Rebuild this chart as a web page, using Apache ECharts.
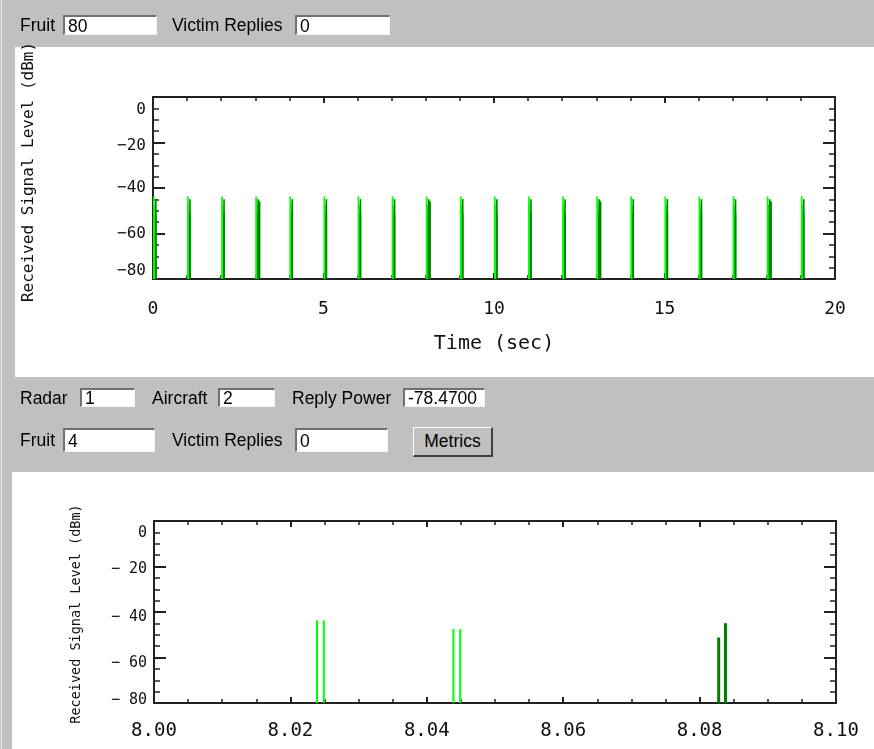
<!DOCTYPE html>
<html>
<head>
<meta charset="utf-8">
<script src="https://cdn.jsdelivr.net/npm/echarts@6/dist/echarts.min.js"></script>
<style>
	body{margin:0;background:#c0c0c0;font-family:"Liberation Sans",Arial,sans-serif;}
	.page{position:relative;width:874px;height:749px;overflow:hidden;background:#c0c0c0;}
	.white{position:absolute;background:#fff;}
	.edge{position:absolute;left:1px;top:0;width:1px;height:749px;background:#ececec;}
	#chart{position:absolute;left:0;top:0;width:874px;height:749px;z-index:2;}
	.lbl{position:absolute;font-size:17.5px;color:#000;line-height:20px;white-space:nowrap;z-index:3;}
	.box{position:absolute;background:#fff;box-sizing:border-box;border-top:2px solid #707070;border-left:2px solid #707070;
		border-right:1px solid #f4f4f4;border-bottom:1px solid #f4f4f4;font-size:17.5px;padding-left:3px;overflow:hidden;white-space:nowrap;z-index:3;}
	.btn{position:absolute;box-sizing:border-box;background:#c0c0c0;border-top:1px solid #fff;border-left:1px solid #fff;
		border-right:2px solid #404040;border-bottom:2px solid #404040;font-size:17.5px;text-align:center;z-index:3;}
</style>
</head>
<body>
<div class="page">
	<div class="edge"></div>
	<div class="white" style="left:15px;top:47px;width:859px;height:330px;"></div>
	<div class="white" style="left:12px;top:472px;width:862px;height:277px;"></div>

	<div class="lbl" style="left:20px;top:15px;">Fruit</div>
	<div class="box" style="left:63px;top:15px;width:94px;height:20px;line-height:18px;">80</div>
	<div class="lbl" style="left:172px;top:15px;">Victim Replies</div>
	<div class="box" style="left:295px;top:15px;width:95px;height:20px;line-height:18px;">0</div>

	<div class="lbl" style="left:20px;top:388px;">Radar</div>
	<div class="box" style="left:80px;top:388px;width:55px;height:19px;line-height:17px;">1</div>
	<div class="lbl" style="left:152px;top:388px;">Aircraft</div>
	<div class="box" style="left:218px;top:388px;width:57px;height:19px;line-height:17px;">2</div>
	<div class="lbl" style="left:292px;top:388px;">Reply Power</div>
	<div class="box" style="left:403px;top:388px;width:82px;height:19px;line-height:17px;">-78.4700</div>

	<div class="lbl" style="left:20px;top:430px;">Fruit</div>
	<div class="box" style="left:63px;top:428px;width:92px;height:24px;line-height:22px;">4</div>
	<div class="lbl" style="left:172px;top:430px;">Victim Replies</div>
	<div class="box" style="left:295px;top:428px;width:93px;height:24px;line-height:22px;">0</div>
	<div class="btn" style="left:413px;top:427px;width:80px;height:30px;line-height:27px;">Metrics</div>

	<div id="chart"></div>
</div>
<script>
// full 20 s run: fruit pulses (bright green) and replies (dark green), [time, dBm]
var topFruit = [
	[0.024,-43.7],[0.044,-47.5],[1.024,-43.7],[1.044,-47.5],[2.024,-43.7],[2.044,-47.5],
	[3.024,-43.7],[3.044,-47.5],[3.115,-45.5],[4.024,-43.7],[4.044,-47.5],
	[5.024,-43.7],[5.044,-47.5],[6.024,-43.7],[6.044,-47.5],[7.024,-43.7],[7.044,-47.5],
	[8.024,-43.7],[8.044,-47.5],[8.115,-45.5],[9.024,-43.7],[9.044,-47.5],
	[10.024,-43.7],[10.044,-47.5],[11.024,-43.7],[11.044,-47.5],[12.024,-43.7],[12.044,-47.5],
	[13.024,-43.7],[13.044,-47.5],[13.115,-45.5],[14.024,-43.7],[14.044,-47.5],
	[15.024,-43.7],[15.044,-47.5],[16.024,-43.7],[16.044,-47.5],[17.024,-43.7],[17.044,-47.5],
	[18.024,-43.7],[18.044,-47.5],[18.115,-45.5],[19.024,-43.7],[19.044,-47.5]
];
var topReplies = [
	[0.083,-51.2],[0.084,-44.9],[1.083,-51.2],[1.084,-44.9],[2.083,-51.2],[2.084,-44.9],
	[3.083,-51.2],[3.084,-44.9],[3.125,-46.0],[4.083,-51.2],[4.084,-44.9],
	[5.083,-51.2],[5.084,-44.9],[6.083,-51.2],[6.084,-44.9],[7.083,-51.2],[7.084,-44.9],
	[8.083,-51.2],[8.084,-44.9],[8.125,-46.0],[9.083,-51.2],[9.084,-44.9],
	[10.083,-51.2],[10.084,-44.9],[11.083,-51.2],[11.084,-44.9],[12.083,-51.2],[12.084,-44.9],
	[13.083,-51.2],[13.084,-44.9],[13.125,-46.0],[14.083,-51.2],[14.084,-44.9],
	[15.083,-51.2],[15.084,-44.9],[16.083,-51.2],[16.084,-44.9],[17.083,-51.2],[17.084,-44.9],
	[18.083,-51.2],[18.084,-44.9],[18.125,-46.0],[19.083,-51.2],[19.084,-44.9]
];
// zoomed window 8.00 - 8.10 s
var zoomFruit = [[8.0239,-43.7],[8.0249,-43.7],[8.0439,-47.5],[8.0449,-47.5]];
var zoomReplies = [[8.0828,-51.2],[8.0838,-44.9]];

var yTitle = 'Received Signal Level (dBm)';
var xTitle = 'Time (sec)';

var mono = '"DejaVu Sans Mono", "Liberation Mono", monospace';
var axisColor = '#222';

function spike(width){
	return function(params, api){
		var top = api.coord([api.value(0), api.value(1)]);
		var base = api.coord([api.value(0), -80]);
		return {
			type:'line',
			shape:{x1:top[0], y1:top[1], x2:base[0], y2:base[1]},
			style:{stroke:api.visual('color'), lineWidth:width}
		};
	};
}

function frameAxis(extra, majorLen, minorLen, split){
	var a = {
		type:'value',
		axisLine:{show:true, onZero:false, lineStyle:{color:axisColor, width:2}},
		axisTick:{show:true, inside:true, length:majorLen, lineStyle:{color:axisColor, width:2}},
		minorTick:{show:true, splitNumber:split, length:minorLen, lineStyle:{color:axisColor, width:1.5}},
		splitLine:{show:false},
		minorSplitLine:{show:false},
		axisLabel:{show:false}
	};
	for(var k in extra){ a[k] = extra[k]; }
	return a;
}

// the old plot routine nudges some tick labels off their ticks
function yLabels(size, gap, shifts){
	var rich = {};
	Object.keys(shifts).forEach(function(key){
		var d = shifts[key];
		rich['s' + key.replace('-', 'm')] = {fontFamily:mono, fontSize:size, color:'#111',
			padding: d >= 0 ? [2 * d, 0, 0, 0] : [0, 0, -2 * d, 0]};
	});
	return {
		show:true, margin:7, fontFamily:mono, fontSize:size, color:'#111',
		formatter:function(v){
			var s = v < 0 ? '\u2212' + gap + (-v) : String(v);
			var key = String(v);
			return shifts[key] !== undefined ? '{s' + key.replace('-', 'm') + '|' + s + '}' : s;
		},
		rich:rich
	};
}

var myChart = echarts.init(document.getElementById('chart'));
var option = {
	backgroundColor:'transparent',
	animation:false,
	grid:[
		{left:153, top:97, width:682, height:182},
		{left:154, top:521, width:682, height:182}
	],
	xAxis:[
		frameAxis({gridIndex:0, position:'bottom', min:0, max:20, interval:5,
			name:xTitle, nameLocation:'middle', nameGap:55,
			nameTextStyle:{fontFamily:mono, fontSize:20, color:'#111'},
			axisLabel:{show:true, margin:21, fontFamily:mono, fontSize:18, color:'#111'}}, 6, 4, 5),
		frameAxis({gridIndex:0, position:'top', min:0, max:20, interval:5}, 6, 4, 5),
		frameAxis({gridIndex:1, position:'bottom', min:8, max:8.1, interval:0.02,
			axisLabel:{show:true, margin:19, fontFamily:mono, fontSize:19, color:'#111',
				formatter:function(v){ return v.toFixed(2); }}}, 6, 4, 4),
		frameAxis({gridIndex:1, position:'top', min:8, max:8.1, interval:0.02}, 6, 4, 4)
	],
	yAxis:[
		frameAxis({gridIndex:0, position:'left', min:-80, max:0, interval:20,
			axisLabel:yLabels(16, '', {'0':13, '-20':3, '-80':-8})}, 12, 6, 4),
		frameAxis({gridIndex:0, position:'right', min:-80, max:0, interval:20}, 12, 6, 4),
		frameAxis({gridIndex:1, position:'left', min:-80, max:0, interval:20,
			axisLabel:yLabels(15, ' ', {'0':12, '-20':3, '-40':5, '-60':6, '-80':-3})}, 12, 6, 4),
		frameAxis({gridIndex:1, position:'right', min:-80, max:0, interval:20}, 12, 6, 4)
	],
	graphic:[
		{type:'text', x:29, y:172, rotation:Math.PI/2,
			style:{text:yTitle, fontFamily:mono, fontSize:16, fill:'#111', align:'center', verticalAlign:'middle'}},
		{type:'text', x:76, y:614, rotation:Math.PI/2,
			style:{text:yTitle, fontFamily:mono, fontSize:13.5, fill:'#111', align:'center', verticalAlign:'middle'}}
	],
	series:[
		{name:'Fruit', type:'custom', xAxisIndex:0, yAxisIndex:0, renderItem:spike(1.7),
			itemStyle:{color:'#00ff00'}, data:topFruit, z:3},
		{name:'Replies', type:'custom', xAxisIndex:0, yAxisIndex:0, renderItem:spike(1.6),
			itemStyle:{color:'#008000'}, data:topReplies, z:3},
		{name:'Fruit', type:'custom', xAxisIndex:2, yAxisIndex:2, renderItem:spike(2),
			itemStyle:{color:'#00ff00'}, data:zoomFruit, z:3},
		{name:'Replies', type:'custom', xAxisIndex:2, yAxisIndex:2, renderItem:spike(3),
			itemStyle:{color:'#008000'}, data:zoomReplies, z:3}
	]
};
myChart.setOption(option);
</script>
</body>
</html>
